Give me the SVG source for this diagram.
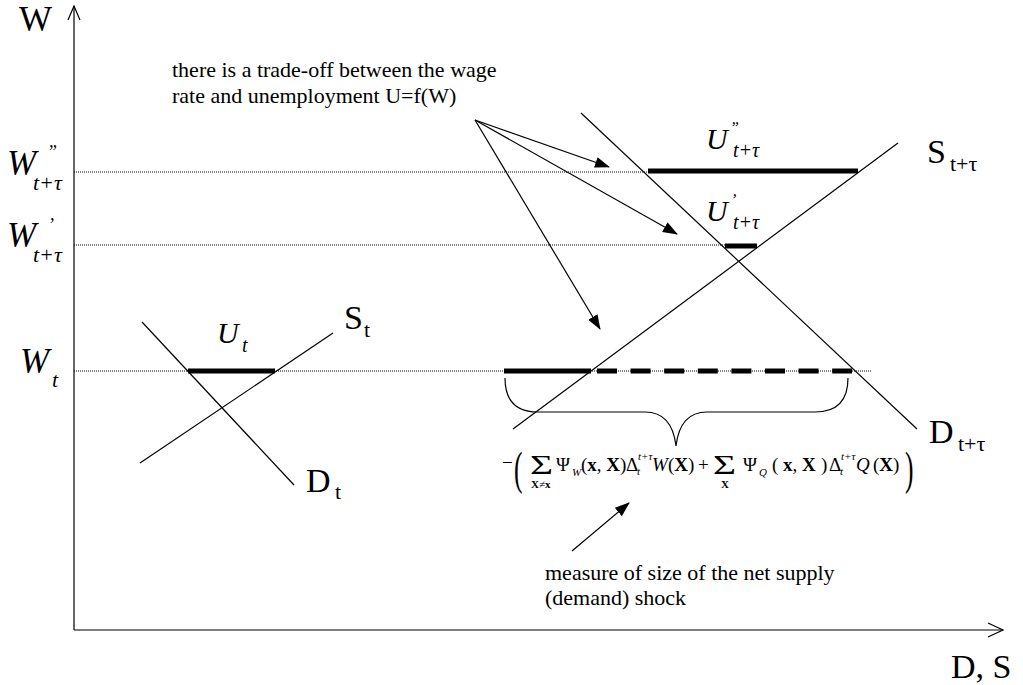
<svg xmlns="http://www.w3.org/2000/svg" width="1023" height="685" viewBox="0 0 1023 685">
<style>
text{font-family:"Liberation Serif","Times New Roman",serif;fill:#000}
.it{font-style:italic}
.b{font-weight:bold}
.ln{stroke:#000;stroke-width:1.2;fill:none}
.ax{stroke:#000;stroke-width:1.2;fill:none}
.dot{stroke:#000;stroke-width:1;stroke-dasharray:1 1;fill:none}
.bar{stroke:#000;stroke-width:5;fill:none}
.arr{stroke:#000;stroke-width:1.2;fill:none;marker-end:url(#ah)}
.lab{font-size:34px}
.sub{font-size:22px}
.note{font-size:22px}
.f{font-size:19px}
.fs{font-size:11px}
.sig{font-size:27px}
.par{font-size:34px}
</style>
<defs>
<marker id="ah" markerUnits="userSpaceOnUse" markerWidth="15" markerHeight="11" refX="14" refY="5.5" orient="auto"><path d="M0,0 L15,5.5 L0,11 z" fill="#000"/></marker>
</defs>

<g id="axes">
<line class="ax" x1="74" y1="630" x2="74" y2="6"/>
<polyline class="ax" points="68,20 74,6 80,20"/>
<line class="ax" x1="74" y1="630" x2="1003" y2="630"/>
<polyline class="ax" points="988,623 1003,630 988,637"/>
<text id="lab-W" x="19" y="31" style="font-size:35px">W</text>
<text id="lab-DS" class="lab" x="951" y="678">D, S</text>
</g>

<g id="wage-levels">
<line class="dot" x1="74" y1="172" x2="648" y2="172"/>
<line class="dot" x1="74" y1="245" x2="725" y2="245"/>
<line class="dot" x1="74" y1="371" x2="872" y2="371"/>
<text class="lab it" x="7" y="175" style="font-size:35px">W</text>
<text class="it" x="47" y="158" style="font-size:18px">”</text>
<text class="sub it" x="33" y="190">t+τ</text>
<text class="lab it" x="7" y="247" style="font-size:35px">W</text>
<text class="it" x="48" y="231" style="font-size:18px">’</text>
<text class="sub it" x="33" y="262">t+τ</text>
<text class="lab it" x="20" y="373" style="font-size:35px">W</text>
<text class="sub it" x="52" y="387">t</text>
</g>

<g id="market-t">
<line class="ln" x1="142" y1="322" x2="294" y2="485"/>
<line class="ln" x1="140" y1="463" x2="333" y2="333"/>
<line class="bar" x1="188" y1="371" x2="275" y2="371"/>
<text class="it" x="217" y="343" style="font-size:30px">U</text>
<text class="it" x="242" y="352" style="font-size:20px">t</text>
<text class="lab" x="344" y="329">S</text>
<text class="sub" x="364" y="337">t</text>
<text class="lab" x="306" y="492">D</text>
<text class="sub" x="335" y="499">t</text>
</g>

<g id="market-t-tau">
<line class="ln" x1="581" y1="113" x2="917" y2="429"/>
<line class="ln" x1="513" y1="429" x2="898" y2="143"/>
<line class="bar" x1="648" y1="171" x2="858" y2="171"/>
<line class="bar" x1="725" y1="246" x2="757" y2="246"/>
<line class="bar" x1="504" y1="371" x2="591" y2="371"/>
<line class="bar" x1="597" y1="371" x2="852" y2="371" style="stroke-dasharray:20 13.6"/>
<text class="it" x="706" y="149" style="font-size:30px">U</text>
<text class="it" x="730" y="133" style="font-size:16px">”</text>
<text class="it" x="733" y="157" style="font-size:20px">t+τ</text>
<text class="it" x="706" y="221" style="font-size:30px">U</text>
<text class="it" x="731" y="205" style="font-size:16px">’</text>
<text class="it" x="733" y="229" style="font-size:20px">t+τ</text>
<text class="lab" x="927" y="163">S</text>
<text class="sub" x="950" y="171">t+τ</text>
<text class="lab" x="929" y="443">D</text>
<text class="sub" x="958" y="451">t+τ</text>
</g>

<g id="shock-brace">
<path class="ln" d="M505,378 Q505,412 538,412 L645,412 Q672,412 676,446 Q680,412 707,412 L815,412 Q848,412 848,378"/>
</g>

<g id="shock-formula">
<text class="f" x="502" y="469">−</text>
<text class="par" transform="translate(514,484) scale(0.75,1.35)">(</text>
<text class="sig" x="530" y="474" textLength="23" lengthAdjust="spacingAndGlyphs">Σ</text>
<text class="fs" x="531" y="488"><tspan class="b">X</tspan>≠<tspan class="b">x</tspan></text>
<text class="f" x="556" y="471">Ψ</text>
<text class="fs it" x="572" y="476">W</text>
<text class="f" x="581" y="471">(<tspan class="b">x</tspan>, <tspan class="b">X</tspan>)</text>
<text class="f" x="626" y="471">Δ</text>
<text class="fs it" x="637" y="475">t</text>
<text class="fs it" x="638" y="460">t+τ</text>
<text class="f it" x="652" y="471">W</text>
<text class="f" x="668" y="471">(<tspan class="b">X</tspan>)</text>
<text class="f" x="698" y="471">+</text>
<text class="sig" x="713" y="474" textLength="23" lengthAdjust="spacingAndGlyphs">Σ</text>
<text class="fs b" x="721" y="488">X</text>
<text class="f" x="743" y="471">Ψ</text>
<text class="fs it" x="759" y="476">Q</text>
<text class="f" x="772" y="471">(</text>
<text class="f" x="783" y="471"><tspan class="b">x</tspan>, <tspan class="b">X</tspan></text>
<text class="f" x="821" y="471">)</text>
<text class="f" x="829" y="471">Δ</text>
<text class="fs it" x="840" y="475">t</text>
<text class="fs it" x="841" y="460">t+τ</text>
<text class="f it" x="856" y="471">Q</text>
<text class="f" x="873" y="471">(<tspan class="b">X</tspan>)</text>
<text class="par" transform="translate(905,484) scale(0.75,1.35)">)</text>
</g>

<g id="note-tradeoff">
<text class="note" x="172" y="77">there is a trade-off between the wage</text>
<text class="note" x="172" y="103">rate and unemployment U=f(W)</text>
</g>

<g id="note-shock">
<text class="note" x="545" y="580">measure of size of the net supply</text>
<text class="note" x="545" y="605">(demand) shock</text>
</g>

<g id="connectors">
<line class="arr" x1="475" y1="120" x2="609" y2="167"/>
<line class="arr" x1="475" y1="120" x2="677" y2="234"/>
<line class="arr" x1="475" y1="120" x2="600" y2="329"/>
<line class="arr" x1="572" y1="551" x2="629" y2="503"/>
</g>
</svg>
